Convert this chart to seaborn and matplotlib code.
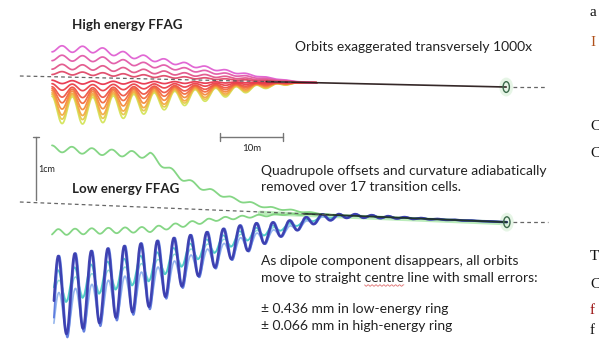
import numpy as np
import matplotlib
matplotlib.use("Agg")
import matplotlib.pyplot as plt
import seaborn as sns
from matplotlib.patches import Ellipse

sns.set_theme(style="white")
plt.rcParams['font.family'] = ['Lato', 'DejaVu Sans']

# Longitudinal position s in metres, transverse offset in mm (drawn 1000x exaggerated)

# ---- centre lines (start/end points) ----
high_centre_s = [-5.1, 72.1]
high_centre_y = [0.0, -1.75]
low_centre_s = [-5.1, 72.2]
low_centre_y = [-20.0, -23.2]

# ---- high energy FFAG orbits ----
high_cell = 3.25        # scallop period (m)
high_phase0 = 1.6       # s of first maximum excursion
high_taper_s = [0.0, 6.8, 34.6, 38.6, 41.0]
high_taper_f = [1.0, 1.0, 0.13, 0.03, 0.0]
high_offsets = [4.45, 3.0, 1.6, 0.6, -0.8, -1.6, -2.4, -3.0, -3.65, -4.3, -4.75, -5.25]
high_amps = [0.5, 0.45, 0.4, 0.25, 0.25, 0.5, 0.8, 1.1, 1.45, 1.75, 1.95, 2.15]
high_colors = ['#e060d2', '#e25aa8', '#e2558a', '#e04868', '#e8344c', '#ea4048',
               '#ee5444', '#f26a3e', '#f48a3c', '#f2aa42', '#e6c84c', '#d4e45a']

# ---- low energy FFAG orbits ----
green_up_offset = 8.7
green_up_amp = 0.5
green_up_cell = 3.17
green_up_taper_s = [0.0, 15.6, 18.7, 20.8, 23.5, 28.7, 34.1, 39.4, 44.1]
green_up_taper_f = [1.0, 0.95, 0.70, 0.55, 0.41, 0.22, 0.09, 0.04, 0.0]

green_lo_offset = -4.6
green_lo_amp = 0.48
green_lo_cell = 2.65
green_lo_taper_s = [0.0, 15.6, 20.8, 26.2, 31.4, 36.7, 42.5]
green_lo_taper_f = [1.0, 0.76, 0.55, 0.31, 0.17, 0.05, 0.0]

blue_cell = 2.62
blue_phase0 = 2.3
blue_env_s = [0.0, 15.6, 23.5, 31.4, 36.7, 42.5, 47.3, 72.2]
blue_env_y = [-15.0, -10.6, -7.1, -4.0, -2.5, -0.6, 0.0, 0.0]
blue_amp_s = [0.0, 15.6, 23.5, 31.4, 36.7, 42.5, 47.3, 55.2, 62.0, 72.2]
blue_amp_y = [6.5, 5.1, 3.3, 2.1, 1.1, 0.6, 0.3, 0.15, 0.05, 0.0]
blue_off_mult = [0.95, 0.9, 1.2, 1.02, 1.0]
blue_amp_mult = [0.28, 0.42, 0.55, 1.05, 1.0]
blue_shift = [0.1, -0.05, 0.1, 0.15, 0.0]
blue_colors = ['#86dcd2', '#48cbc6', '#90b2ec', '#5a78de', '#3a3cae']
blue_widths = [1.0, 1.2, 1.2, 1.3, 1.8]

# ---- scale bars ----
bar_len_s = 10.0   # m
bar_len_y = 10.0   # mm (1 cm)

# drawing scale: 6.3 px per metre and per mm
PX = 6.3
W, H = 599, 341
fig = plt.figure(figsize=(W / 100, H / 100), dpi=100)
ax = fig.add_axes([0, 0, 1, 1])
ax.set_xlim(-52 / PX, (W - 52) / PX)
ax.set_ylim((76 - H) / PX, 76 / PX)
ax.axis('off')


def centre(s, cs, cy):
    return np.interp(s, cs, cy)


def line(s, y, color, lw, z=2, alpha=0.95, **kw):
    sns.lineplot(x=s, y=y, color=color, lw=lw, ax=ax, sort=False,
                 estimator=None, zorder=z, alpha=alpha, **kw)


# high energy orbits (outermost drawn first)
s_h = np.linspace(0, 42, 900)
yc_h = centre(s_h, high_centre_s, high_centre_y)
f_h = np.interp(s_h, high_taper_s, high_taper_f)
osc_h = np.cos(2 * np.pi * (s_h - high_phase0) / high_cell)
order = [11, 10, 9, 8, 7, 6, 5, 4, 0, 1, 2, 3]
for i in order:
    off, amp = high_offsets[i], high_amps[i]
    y = yc_h + f_h * (off + np.sign(off) * amp * osc_h)
    line(s_h, y, high_colors[i], 1.25)

# merged high energy orbit
s_hm = np.linspace(34, high_centre_s[1], 50)
line(s_hm, centre(s_hm, high_centre_s, high_centre_y), '#2a1c1c', 1.2, z=4)

# low energy orbits
s_l = np.linspace(0, 46, 900)
yc_l = centre(s_l, low_centre_s, low_centre_y)

# green glow along the merged orbit
s_g = np.linspace(33, low_centre_s[1], 80)
line(s_g, centre(s_g, low_centre_s, low_centre_y) - 0.15, '#8fe08f', 3.2, z=1, alpha=0.6)

f = np.interp(s_l, green_up_taper_s, green_up_taper_f)
y = yc_l + f * green_up_offset + np.sqrt(f) * green_up_amp * np.cos(2 * np.pi * s_l / green_up_cell)
line(s_l, y, '#7fd47f', 1.3)

f = np.interp(s_l, green_lo_taper_s, green_lo_taper_f)
y = yc_l + f * green_lo_offset + np.sqrt(f) * green_lo_amp * np.cos(2 * np.pi * (s_l - 1.0) / green_lo_cell)
line(s_l, y, '#7fd47f', 1.3)

s_b = np.linspace(0.3, low_centre_s[1], 1400)
yc_b = centre(s_b, low_centre_s, low_centre_y)
env = np.interp(s_b, blue_env_s, blue_env_y)
amp = np.interp(s_b, blue_amp_s, blue_amp_y)
for k in range(len(blue_colors)):
    osc = np.cos(2 * np.pi * (s_b - blue_phase0 - blue_shift[k]) / blue_cell)
    y = yc_b + blue_off_mult[k] * env - blue_amp_mult[k] * amp * osc
    line(s_b, y, blue_colors[k], blue_widths[k], z=3)

s_lm = np.linspace(40, low_centre_s[1], 50)
line(s_lm, centre(s_lm, low_centre_s, low_centre_y), '#1f3326', 1.3, z=4)

# centre lines (dashed) and markers at the ring exits
dash = dict(color='#555555', lw=0.9, linestyle=(0, (3, 2.5)))
for cs, cy, s_stop in [(high_centre_s, high_centre_y, 38.0), (low_centre_s, low_centre_y, 45.0)]:
    s = np.array([cs[0], s_stop])
    line(s, centre(s, cs, cy), z=5, alpha=0.9, **dash)
    s = np.array([cs[1] + 1.0, cs[1] + 6.5])
    line(s, centre(s, cs, cy), z=5, alpha=0.9, **dash)
    xe, ye = cs[1], cy[1]
    ax.add_patch(Ellipse((xe, ye), 2.2, 3.0, facecolor='#dcf2dc', edgecolor='none', alpha=0.7, zorder=1))
    ax.add_patch(Ellipse((xe, ye), 1.0, 1.7, facecolor='none', edgecolor='#3d6b4c', lw=1.0, zorder=6))

# scale bars
bar_col = '#707070'
bx0, by = 26.67, -9.68
line(np.array([bx0, bx0 + bar_len_s]), np.array([by, by]), bar_col, 1.0, z=5)
for xb in (bx0, bx0 + bar_len_s):
    line(np.array([xb, xb]), np.array([by - 0.6, by + 0.6]), bar_col, 1.0, z=5)
vx = -2.54
line(np.array([vx, vx]), np.array([by, by - bar_len_y]), bar_col, 1.0, z=5)
line(np.array([vx - 0.5, vx + 0.5]), np.array([by, by]), bar_col, 1.0, z=5)


def ftext(px, py, s, **kw):
    kw.setdefault('color', '#222222')
    kw.setdefault('va', 'center')
    return fig.text(px / W, 1 - py / H, s, **kw)


BODY = 10.0
ftext(72, 25, 'High energy FFAG', fontsize=9.6, fontweight='bold')
ftext(295, 47, 'Orbits exaggerated transversely 1000x', fontsize=BODY)
ftext(252, 148, '10m', fontsize=7, ha='center')
ftext(38, 169, '1cm', fontsize=6.5)
ftext(72, 189, 'Low energy FFAG', fontsize=9.6, fontweight='bold')
ftext(261, 171, 'Quadrupole offsets and curvature adiabatically', fontsize=BODY)
ftext(261, 187, 'removed over 17 transition cells.', fontsize=BODY)
ftext(261, 261, 'As dipole component disappears, all orbits', fontsize=BODY)
ftext(261, 278, 'move to straight centre line with small errors:', fontsize=BODY)
ftext(261, 309, '± 0.436 mm in low-energy ring', fontsize=BODY)
ftext(261, 326, '± 0.066 mm in high-energy ring', fontsize=BODY)

# spelling squiggle under the word "centre"
renderer = fig.canvas.get_renderer()
probe = ftext(261, 278, 'move to straight ', fontsize=BODY, alpha=0)
word = ftext(261, 278, 'centre', fontsize=BODY, alpha=0)
x_start = probe.get_window_extent(renderer).width + 261
x_end = x_start + word.get_window_extent(renderer).width
probe.remove()
word.remove()
sq_x = np.linspace(x_start, x_end, 48)
sq_y = 285.5 + 0.8 * np.sin(sq_x * 1.6)
fig.lines.append(plt.Line2D(sq_x / W, 1 - sq_y / H, transform=fig.transFigure,
                            color='#e07070', lw=0.6))

# neighbouring column of the page, near the edge
edge_chars = ['a', 'I', 'C', 'C', 'T', 'C', 'f', 'f']
edge_y = [13, 42, 127, 153, 256, 284, 311, 331]
edge_col = ['#111111', '#b0501a', '#111111', '#111111', '#111111', '#111111', '#9a1010', '#111111']
for ch, yy, cc in zip(edge_chars, edge_y, edge_col):
    ftext(590, yy, ch, fontsize=11, color=cc, family='Liberation Serif')

fig.savefig('out.png', dpi=100, facecolor='white')
